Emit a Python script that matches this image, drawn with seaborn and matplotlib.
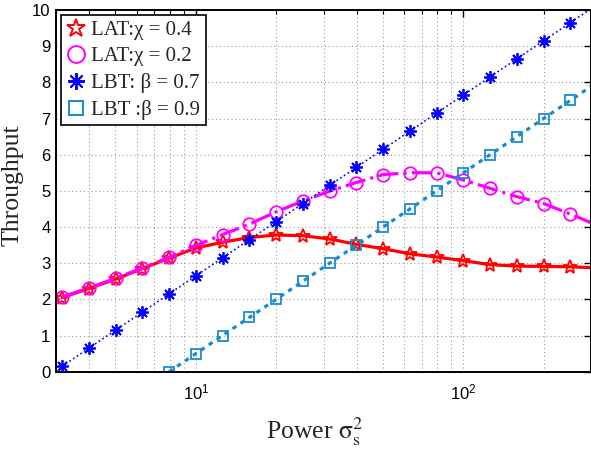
import matplotlib
matplotlib.use("Agg")
import matplotlib.pyplot as plt
from matplotlib.lines import Line2D
import seaborn as sns

# power sigma_s^2 (5 dB ... 25 dB), last point lies just past the right edge
power = [3.162, 3.981, 5.012, 6.310, 7.943, 10.0, 12.59, 15.85, 19.95, 25.12,
         31.62, 39.81, 50.12, 63.10, 79.43, 100.0, 125.9, 158.5, 199.5, 251.2, 316.2]

lat_chi04 = [2.05, 2.30, 2.56, 2.85, 3.14, 3.42, 3.58, 3.71, 3.78, 3.76,
             3.67, 3.52, 3.40, 3.26, 3.17, 3.07, 2.96, 2.92, 2.91, 2.90, 2.87]
lat_chi02 = [2.07, 2.32, 2.58, 2.87, 3.16, 3.49, 3.79, 4.08, 4.42, 4.72,
             4.99, 5.23, 5.45, 5.50, 5.50, 5.30, 5.07, 4.84, 4.65, 4.36, 4.05]
lbt_b07 = [0.15, 0.65, 1.15, 1.65, 2.15, 2.65, 3.15, 3.65, 4.15, 4.65,
           5.15, 5.65, 6.15, 6.65, 7.15, 7.65, 8.15, 8.65, 9.15, 9.65, 10.15]
power_b09 = power[4:]
lbt_b09 = [0.0, 0.5, 1.0, 1.5, 2.0, 2.5, 3.0, 3.5, 4.0,
           4.5, 5.0, 5.5, 6.0, 6.5, 7.0, 7.5, 8.0]

labels = ["LAT:χ = 0.4", "LAT:χ = 0.2", "LBT: β = 0.7", "LBT :β = 0.9"]
colors = ["#ff0000", "#ff00ff", "#0000ff", "#1a8ccc"]

sns.set_theme(style="white")
plt.rcParams["font.family"] = ["Liberation Sans", "DejaVu Sans"]
plt.rcParams["mathtext.fontset"] = "custom"
plt.rcParams["mathtext.rm"] = "Liberation Sans"
plt.rcParams["mathtext.it"] = "Liberation Sans:italic"
plt.rcParams["mathtext.bf"] = "Liberation Sans:bold"

fig = plt.figure(figsize=(5.91, 4.62), dpi=100)
ax = fig.add_axes([56 / 591, 90.3 / 462, 535 / 591, 361.7 / 462])

series = [
    (power, lat_chi04, dict(linestyle="-", linewidth=2.3, marker="*", markersize=10)),
    (power, lat_chi02, dict(linestyle="-.", linewidth=2.3, marker="o", markersize=9)),
    (power, lbt_b07, dict(linestyle=":", linewidth=1.2, marker=(8, 2, 0), markersize=9)),
    (power_b09, lbt_b09, dict(linestyle=(0, (1.4, 1.6)), linewidth=2.3, marker="s", markersize=7)),
]
for (xs, ys, kw), col in zip(series, colors):
    n = len(xs) - 1  # no marker on the clipped last point
    sns.lineplot(x=xs, y=ys, ax=ax, color=col, markevery=slice(0, n),
                 markerfacecolor="none", markeredgecolor=col,
                 markeredgewidth=1.3, clip_on=True, **kw)

ax.set_xscale("log")
ax.set_xlim(3, 300)
ax.set_ylim(0, 10)
ax.set_yticks(range(0, 11))

grid_kw = dict(linestyle=(0, (1, 2.5)), color="0.6", linewidth=0.8)
ax.grid(True, which="both", axis="x", **grid_kw)
ax.grid(True, which="major", axis="y", **grid_kw)

ax.tick_params(which="both", direction="in", top=True, right=True, colors="black",
               labelsize=12)
ax.tick_params(which="major", length=5, width=1)
ax.tick_params(which="minor", length=3, width=0.8)
ax.tick_params(axis="y", pad=4)
ax.tick_params(axis="x", pad=8)
for sp in ax.spines.values():
    sp.set_color("black")
    sp.set_linewidth(1.4)

serif = ["Liberation Serif", "DejaVu Serif"]
ax.set_ylabel("Throughput", family=serif, fontsize=18.5)
ax.set_xlabel(r"Power $\mathrm{σ}_{\mathrm{s}}^{2}$", family=serif, fontsize=18.5,
              math_fontfamily="stix")
ax.yaxis.set_label_coords(-0.061, 0.515)
ax.xaxis.set_label_coords(0.484, -0.12)

handles = []
for (xs, ys, kw), col in zip(series, colors):
    handles.append(Line2D([], [], linestyle="none", marker=kw["marker"],
                          markersize=kw["markersize"] * 1.35, markerfacecolor="none",
                          markeredgecolor=col, markeredgewidth=1.4))
leg = ax.legend(handles, labels, loc="upper left", prop={"family": serif, "size": 15},
                frameon=True, fancybox=False, edgecolor="black", framealpha=1,
                borderaxespad=0.25, handlelength=0.9, handletextpad=0.3,
                labelspacing=0.33, borderpad=0.25)
leg.get_frame().set_linewidth(1.2)

fig.savefig("out.png", dpi=100)
